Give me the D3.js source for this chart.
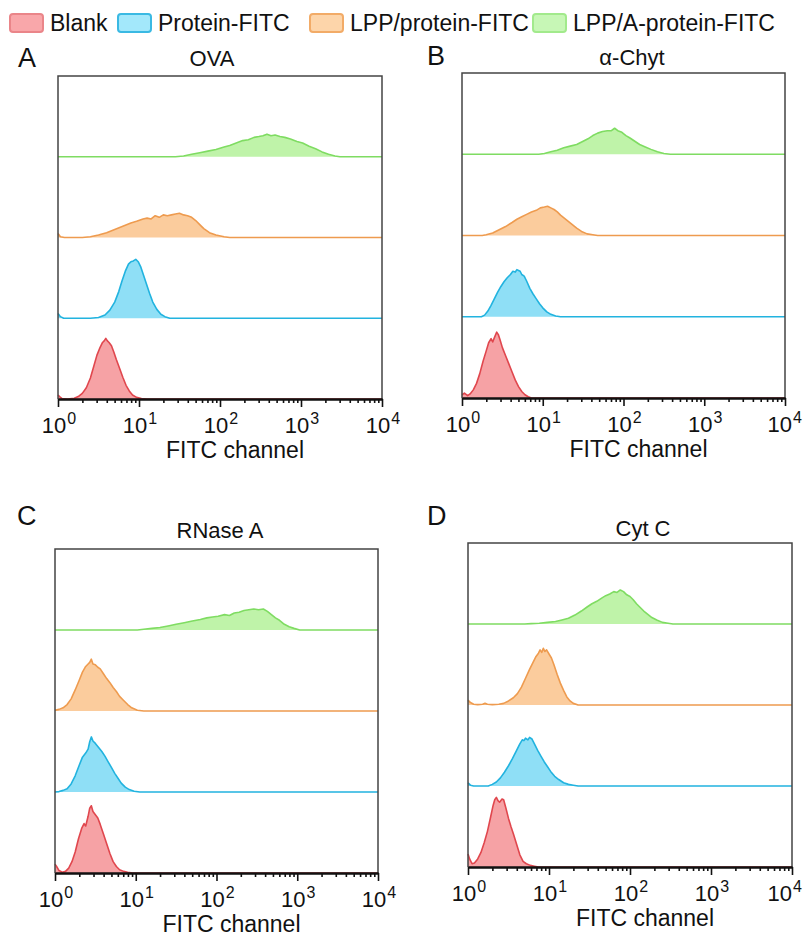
<!DOCTYPE html>
<html>
<head>
<meta charset="utf-8">
<script src="https://cdn.jsdelivr.net/npm/d3@7"></script>
<style>
body{margin:0;background:#fff;}
svg{display:block;font-family:"Liberation Sans",Arial,Helvetica,sans-serif;}
</style>
</head>
<body>
<svg id="chart" width="804" height="946"></svg>
<script>
/* series (bottom lane to top lane) */
var seriesNames = ['Blank','Protein-FITC','LPP/protein-FITC','LPP/A-protein-FITC'];
var panelLetters = ['A','B','C','D'];
var panelTitles = ['OVA','\u03b1-Chyt','RNase A','Cyt C'];
var decades = [0,1,2,3,4];   // 10^0 .. 10^4
var minorSteps = [2,3,4,5,6,7,8,9];

/* histograms: [log10(FITC), % of lane height] */
var ovaBlank = [[0,5],[0.02,3],[0.05,0.5],[0.12,0],[0.2,1],[0.25,3],[0.3,7],[0.35,14],[0.4,26],[0.44,40],[0.48,54],[0.52,64],[0.55,70],[0.57,72],[0.59,75],[0.61,72],[0.63,70],[0.66,66],[0.69,58],[0.72,49],[0.76,38],[0.8,27],[0.84,17],[0.88,10],[0.92,5],[0.97,2],[1.03,0.5],[1.1,0],[4,0]];
var ovaProtein = [[0,6],[0.03,2],[0.07,0],[0.4,0],[0.5,1],[0.58,4],[0.64,10],[0.7,20],[0.75,33],[0.79,46],[0.83,58],[0.87,67],[0.9,70],[0.93,71],[0.96,73],[0.99,70],[1.02,64],[1.05,55],[1.09,43],[1.13,31],[1.17,20],[1.22,11],[1.27,5],[1.32,2],[1.38,0],[4,0]];
var ovaLpp = [[0,5],[0.03,1],[0.08,0],[0.3,0],[0.4,1],[0.5,3],[0.6,6],[0.7,10],[0.8,14],[0.9,18],[0.97,20],[1.05,23],[1.1,24],[1.15,23],[1.2,27],[1.25,25],[1.3,28],[1.35,27],[1.4,28],[1.45,29],[1.5,30],[1.55,28],[1.6,27],[1.65,25],[1.7,21],[1.75,16],[1.8,11],[1.87,6],[1.95,3],[2.05,1],[2.12,0],[4,0]];
var ovaLppA = [[0,0],[1.45,0],[1.55,1],[1.65,3],[1.75,5],[1.85,7],[1.95,9],[2.05,12],[2.12,14],[2.2,17],[2.28,20],[2.35,21],[2.42,24],[2.48,25],[2.53,26],[2.58,28],[2.63,26],[2.68,27],[2.74,25],[2.8,24],[2.87,22],[2.95,19],[3.02,17],[3.1,13],[3.18,10],[3.26,6],[3.34,3],[3.42,1],[3.48,0],[4,0]];

var chytBlank = [[0,4],[0.03,6],[0.07,3],[0.1,5],[0.14,10],[0.18,18],[0.22,30],[0.26,45],[0.3,58],[0.33,68],[0.36,73],[0.38,69],[0.4,74],[0.43,81],[0.45,78],[0.47,72],[0.5,62],[0.54,52],[0.58,42],[0.62,32],[0.66,22],[0.7,14],[0.74,8],[0.78,4],[0.82,1.5],[0.86,0],[4,0]];
var chytProtein = [[0,0],[0.24,0],[0.28,2],[0.32,7],[0.36,14],[0.4,22],[0.44,30],[0.48,37],[0.52,43],[0.56,48],[0.6,52],[0.63,56],[0.66,55],[0.68,58],[0.7,57],[0.72,56],[0.74,52],[0.77,50],[0.8,44],[0.84,35],[0.88,28],[0.92,22],[0.96,16],[1.0,11],[1.05,6],[1.1,3],[1.16,1],[1.22,0],[4,0]];
var chytLpp = [[0,0],[0.25,0],[0.3,1],[0.38,3],[0.46,7],[0.54,11],[0.62,16],[0.68,20],[0.74,23],[0.8,26],[0.86,29],[0.92,31],[0.97,34],[1.02,35],[1.06,36],[1.1,34],[1.14,32],[1.18,29],[1.22,25],[1.27,21],[1.32,17],[1.37,13],[1.42,9],[1.48,5],[1.55,2],[1.62,1],[1.68,0],[4,0]];
var chytLppA = [[0,0],[0.95,0],[1.02,1],[1.1,3],[1.18,5],[1.26,8],[1.34,10],[1.42,12],[1.5,16],[1.56,19],[1.62,23],[1.68,26],[1.74,28],[1.8,29],[1.85,29],[1.89,32],[1.93,29],[1.98,27],[2.03,23],[2.08,20],[2.14,16],[2.2,12],[2.27,9],[2.34,6],[2.42,3],[2.5,1],[2.58,0],[4,0]];

var rnaseBlank = [[0,11],[0.02,8],[0.05,3],[0.09,1],[0.13,2],[0.17,6],[0.21,14],[0.25,26],[0.29,42],[0.33,55],[0.36,61],[0.38,58],[0.41,70],[0.43,80],[0.45,83],[0.47,76],[0.5,72],[0.53,68],[0.56,60],[0.6,48],[0.64,36],[0.68,24],[0.72,14],[0.76,8],[0.8,4],[0.85,2],[0.9,1],[0.96,0],[4,0]];
var rnaseProtein = [[0,0],[0.05,0.5],[0.1,2],[0.15,4],[0.2,10],[0.25,20],[0.3,33],[0.34,43],[0.38,48],[0.41,53],[0.43,62],[0.45,68],[0.47,63],[0.5,60],[0.54,55],[0.58,50],[0.62,44],[0.66,37],[0.7,30],[0.74,23],[0.78,17],[0.82,11],[0.87,6],[0.92,3],[0.98,1],[1.05,0],[4,0]];
var rnaseLpp = [[0,1],[0.05,2],[0.1,4],[0.15,8],[0.2,15],[0.25,26],[0.3,38],[0.34,48],[0.38,55],[0.41,58],[0.43,60],[0.45,64],[0.47,58],[0.5,57],[0.53,54],[0.56,52],[0.6,46],[0.64,40],[0.68,35],[0.72,29],[0.76,24],[0.8,18],[0.85,13],[0.9,8],[0.95,4],[1.02,1],[1.1,0],[4,0]];
var rnaseLppA = [[0,0],[1.02,0],[1.1,1],[1.2,2],[1.3,3],[1.4,5],[1.5,7],[1.6,9],[1.7,11],[1.8,13],[1.88,15],[1.95,16],[2.02,17],[2.1,19],[2.16,18],[2.22,21],[2.28,22],[2.34,24],[2.4,25],[2.46,26],[2.52,25],[2.58,26],[2.63,23],[2.68,19],[2.73,15],[2.78,12],[2.84,7],[2.9,4],[2.96,2],[3.03,0],[4,0]];

var cytBlank = [[0,16],[0.02,10],[0.05,4],[0.08,5],[0.12,10],[0.16,18],[0.2,30],[0.24,44],[0.28,62],[0.31,76],[0.33,83],[0.35,86],[0.37,82],[0.39,80],[0.42,84],[0.44,83],[0.47,72],[0.5,60],[0.53,50],[0.56,41],[0.6,28],[0.64,15],[0.68,7],[0.72,4],[0.77,2],[0.82,1],[0.87,0],[4,0]];
var cytProtein = [[0,4],[0.03,1],[0.07,0],[0.25,0],[0.3,2],[0.35,5],[0.4,10],[0.45,17],[0.5,25],[0.55,34],[0.6,44],[0.64,52],[0.67,57],[0.69,56],[0.71,59],[0.74,57],[0.76,60],[0.79,58],[0.82,52],[0.86,44],[0.9,37],[0.94,30],[0.98,24],[1.02,18],[1.07,12],[1.12,8],[1.18,4],[1.24,2],[1.3,1],[1.36,0],[4,0]];
var cytLpp = [[0,6],[0.03,3],[0.07,1],[0.12,0.5],[0.18,1],[0.21,2],[0.24,1],[0.3,0.5],[0.38,1],[0.44,2],[0.5,5],[0.56,9],[0.61,14],[0.66,22],[0.71,33],[0.76,44],[0.8,52],[0.84,60],[0.87,64],[0.89,68],[0.91,65],[0.93,70],[0.95,66],[0.97,68],[1.0,63],[1.03,58],[1.06,50],[1.1,38],[1.14,27],[1.18,18],[1.22,10],[1.26,5],[1.3,2],[1.36,0],[4,0]];
var cytLppA = [[0,0],[0.7,0],[0.78,0.5],[0.88,1],[0.98,2],[1.08,3],[1.16,5],[1.24,7],[1.32,11],[1.4,16],[1.47,21],[1.53,25],[1.59,28],[1.65,32],[1.7,35],[1.75,37],[1.8,40],[1.84,39],[1.88,42],[1.92,40],[1.96,36],[2.0,34],[2.04,30],[2.08,25],[2.12,21],[2.17,16],[2.22,12],[2.27,8],[2.33,5],[2.4,2],[2.47,1],[2.53,0],[4,0]];

var panelData = [
  [ovaBlank, ovaProtein, ovaLpp, ovaLppA],
  [chytBlank, chytProtein, chytLpp, chytLppA],
  [rnaseBlank, rnaseProtein, rnaseLpp, rnaseLppA],
  [cytBlank, cytProtein, cytLpp, cytLppA]
];

/* colores por serie */
var lineColors = ['#e0474e','#22b3df','#ee9b4f','#7fdc62'];
var fillColors = ['#f6a2a5','#8fdff6','#fbcc9d','#bff3a9'];
var swatchFill = ['#f9a7aa','#a3e8fb','#fdd5aa','#c7f7b6'];
var swatchLine = ['#ea8589','#3ab9e3','#f2ab67','#a2ea8c'];

/* layout de cada panel (px) */
var layout = [
  {left:58,  right:382, top:76,  bottom:399, letterX:18,  letterY:67,  titleX:212, titleY:66},
  {left:462, right:785, top:73,  bottom:398, letterX:427, letterY:65,  titleX:632, titleY:65},
  {left:55,  right:378, top:549, bottom:873, letterX:17,  letterY:525, titleX:220, titleY:538},
  {left:468, right:792, top:543, bottom:867, letterX:427, letterY:525, titleX:643, titleY:536}
];

var svg = d3.select('#chart');

/* leyenda */
var legendX = [10,118,310,533];
var legend = svg.append('g').classed('legend',true);
seriesNames.forEach((name,i)=>{
  legend.append('rect')
    .attr('x',legendX[i]).attr('y',14)
    .attr('width',33).attr('height',18).attr('rx',3)
    .attr('fill',swatchFill[i]).attr('stroke',swatchLine[i]).attr('stroke-width',2);
  legend.append('text')
    .attr('x',legendX[i]+40).attr('y',31)
    .attr('font-size',23).attr('fill','#111')
    .text(name);
});

function panel(p, k){
  var L = layout[k];
  var g = svg.append('g').classed('panel',true);
  var x = d3.scaleLog().domain([1,1e4]).range([L.left,L.right]);
  var laneH = (L.bottom-L.top)/4;

  panelData[k].forEach((hist,i)=>{
    var y = d3.scaleLinear().domain([0,100])
      .range([L.bottom - i*laneH, L.bottom - (i+1)*laneH]);
    var pts = hist.map(d=>({fitc:Math.pow(10,d[0]), v:d[1]}));
    var area = d3.area().x(d=>x(d.fitc)).y0(y(0)).y1(d=>y(d.v));
    var line = d3.line().x(d=>x(d.fitc)).y(d=>y(d.v));
    g.append('path').attr('d',area(pts)).attr('fill',fillColors[i]);
    g.append('path').attr('d',line(pts)).attr('fill','none')
      .attr('stroke',lineColors[i]).attr('stroke-width',1.6)
      .attr('stroke-linejoin','round');
  });

  // marco
  g.append('path')
    .attr('d','M'+L.left+','+L.bottom+'V'+L.top+'H'+L.right+'V'+L.bottom)
    .attr('fill','none').attr('stroke','#444').attr('stroke-width',1.5);

  // eje x: ticks menores y mayores
  var minor = [];
  decades.slice(0,-1).forEach(e=>{ minorSteps.forEach(m=>minor.push(m*Math.pow(10,e))); });
  var major = decades.map(e=>Math.pow(10,e));
  var axMinor = g.append('g').attr('transform','translate(0,'+L.bottom+')')
    .call(d3.axisBottom(x).tickValues(minor).tickSize(4).tickSizeOuter(0).tickFormat(''));
  var axMajor = g.append('g').attr('transform','translate(0,'+L.bottom+')')
    .call(d3.axisBottom(x).tickValues(major).tickSize(8).tickSizeOuter(0).tickFormat(''));
  [axMinor,axMajor].forEach(a=>{
    a.selectAll('.tick line').attr('stroke','#111').attr('stroke-width',1.6);
    a.select('.domain').attr('stroke','#111').attr('stroke-width',2);
  });

  // etiquetas 10^n, centradas en el tick (sin salir del lienzo)
  decades.forEach(e=>{
    var cx = x(Math.pow(10,e));
    var t = g.append('text').attr('y',L.bottom+34)
      .attr('font-size',22).attr('fill','#111').text('10');
    var s = g.append('text').attr('y',L.bottom+25)
      .attr('font-size',16).attr('fill','#111').text(e);
    var w1 = t.node().getComputedTextLength();
    var w2 = s.node().getComputedTextLength();
    var x0 = cx + 1 - (w1+w2+1)/2;
    if(x0+w1+w2+1 > 802) x0 = 802-(w1+w2+1);
    t.attr('x',x0);
    s.attr('x',x0+w1+1);
  });

  g.append('text')
    .attr('x',(L.left+L.right)/2+15).attr('y',L.bottom+59)
    .attr('text-anchor','middle').attr('font-size',23).attr('fill','#111')
    .text('FITC channel');

  g.append('text').attr('x',L.letterX).attr('y',L.letterY)
    .attr('font-size',27).attr('fill','#111').text(panelLetters[k]);
  g.append('text').attr('x',L.titleX).attr('y',L.titleY)
    .attr('text-anchor','middle').attr('font-size',22).attr('fill','#111')
    .text(p);
}

panelTitles.forEach(panel);
</script>
</body>
</html>
